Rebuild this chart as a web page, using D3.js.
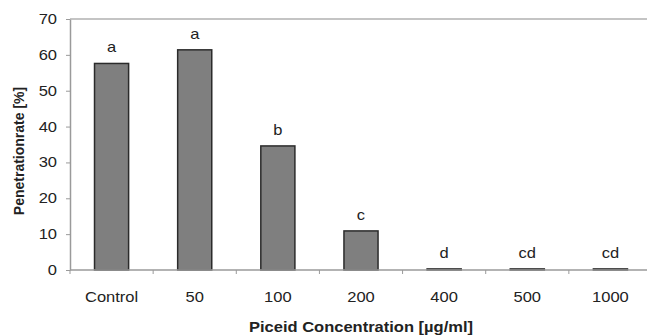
<!DOCTYPE html>
<html>
<head>
<meta charset="utf-8">
<script src="https://cdn.jsdelivr.net/npm/d3@7"></script>
<style>
  body { margin: 0; background: #fff; }
  svg { display: block; font-family: "Liberation Sans", Arial, sans-serif; }
</style>
</head>
<body>
<div id="chart"></div>
<script>
// Data.
const concentrations = ['Control', '50', '100', '200', '400', '500', '1000']
const penetration = [57.6, 61.4, 34.6, 10.9, 0.3, 0.3, 0.3]
const groups = ['a', 'a', 'b', 'c', 'd', 'cd', 'cd']
const yTicks = [0, 10, 20, 30, 40, 50, 60, 70]

const width = 647
const height = 335
const margin = { top: 19, right: -5, bottom: 65, left: 70 }
const stretch = 1.18 // the original figure is a bit wider than tall
const textColor = '#222'

const svg = d3.select('#chart')
  .append('svg')
  .attr('width', width)
  .attr('height', height)

const x = d3.scaleBand()
  .domain(concentrations)
  .range([margin.left, width - margin.right])
  .paddingInner(0.59)
  .paddingOuter(0.295)

const y = d3.scaleLinear()
  .domain([0, 70])
  .range([height - margin.bottom, margin.top])

const axisColor = '#9a9a9a'

// Horizontal text, widened like the source figure.
function label(g, tx, ty, txt, opts = {}) {
  return g.append('text')
    .attr('transform', `translate(${tx},${ty}) scale(${stretch},1)`)
    .attr('text-anchor', opts.anchor ?? 'middle')
    .attr('font-size', opts.size ?? 14)
    .attr('font-weight', opts.weight ?? 'normal')
    .attr('fill', textColor)
    .text(txt)
}

// Top border of the plot area.
svg.append('line')
  .attr('x1', margin.left)
  .attr('x2', width)
  .attr('y1', y(70))
  .attr('y2', y(70))
  .attr('stroke', '#b0b0b0')
  .attr('stroke-width', 1.5)

/**
 * Bars.
 */
svg.append('g')
  .selectAll('rect')
  .data(penetration)
  .enter()
  .append('rect')
    .attr('x', (d, i) => x(concentrations[i]))
    .attr('y', d => y(d))
    .attr('width', x.bandwidth())
    .attr('height', d => y(0) - y(d))
    .attr('fill', '#7f7f7f')
    .attr('stroke', '#2b2b2b')
    .attr('stroke-width', 1.5)

/**
 * Y axis.
 */
const yAxis = svg.append('g')
  .attr('transform', `translate(${margin.left},0)`)
  .call(d3.axisLeft(y).tickValues(yTicks).tickSizeInner(4).tickSizeOuter(0).tickFormat(''))
yAxis.select('path.domain').attr('stroke', axisColor).attr('stroke-width', 1.5)
yAxis.selectAll('.tick line').attr('stroke', axisColor)
const yLabels = svg.append('g')
yTicks.forEach(t => label(yLabels, margin.left - 13, y(t) + 5, t, { anchor: 'end' }))

/**
 * X axis: ticks sit on the category boundaries.
 */
const gap = (x.step() - x.bandwidth()) / 2
const xAxis = svg.append('g')
  .attr('transform', `translate(0,${y(0)})`)
xAxis.append('line')
  .attr('x1', margin.left)
  .attr('x2', width)
  .attr('stroke', axisColor)
  .attr('stroke-width', 1.5)
xAxis.selectAll('.xtick')
  .data(concentrations)
  .enter()
  .append('line')
    .attr('x1', d => x(d) - gap)
    .attr('x2', d => x(d) - gap)
    .attr('y1', 0)
    .attr('y2', 4)
    .attr('stroke', axisColor)
concentrations.forEach(c => label(xAxis, x(c) + x.bandwidth() / 2, 32, c))

/**
 * Significance letters.
 */
const letters = svg.append('g')
groups.forEach((g, i) => {
  label(letters, x(concentrations[i]) + x.bandwidth() / 2, y(penetration[i]) - 11, g)
})

/**
 * Axis titles.
 */
label(svg, (margin.left + width - margin.right) / 2, 332, 'Piceid Concentration [µg/ml]', { weight: 'bold' })

svg.append('text')
  .attr('transform', `translate(24,151) rotate(-90)`)
  .attr('text-anchor', 'middle')
  .attr('font-size', 14)
  .attr('font-weight', 'bold')
  .attr('fill', textColor)
  .text('Penetrationrate [%]')
</script>
</body>
</html>
